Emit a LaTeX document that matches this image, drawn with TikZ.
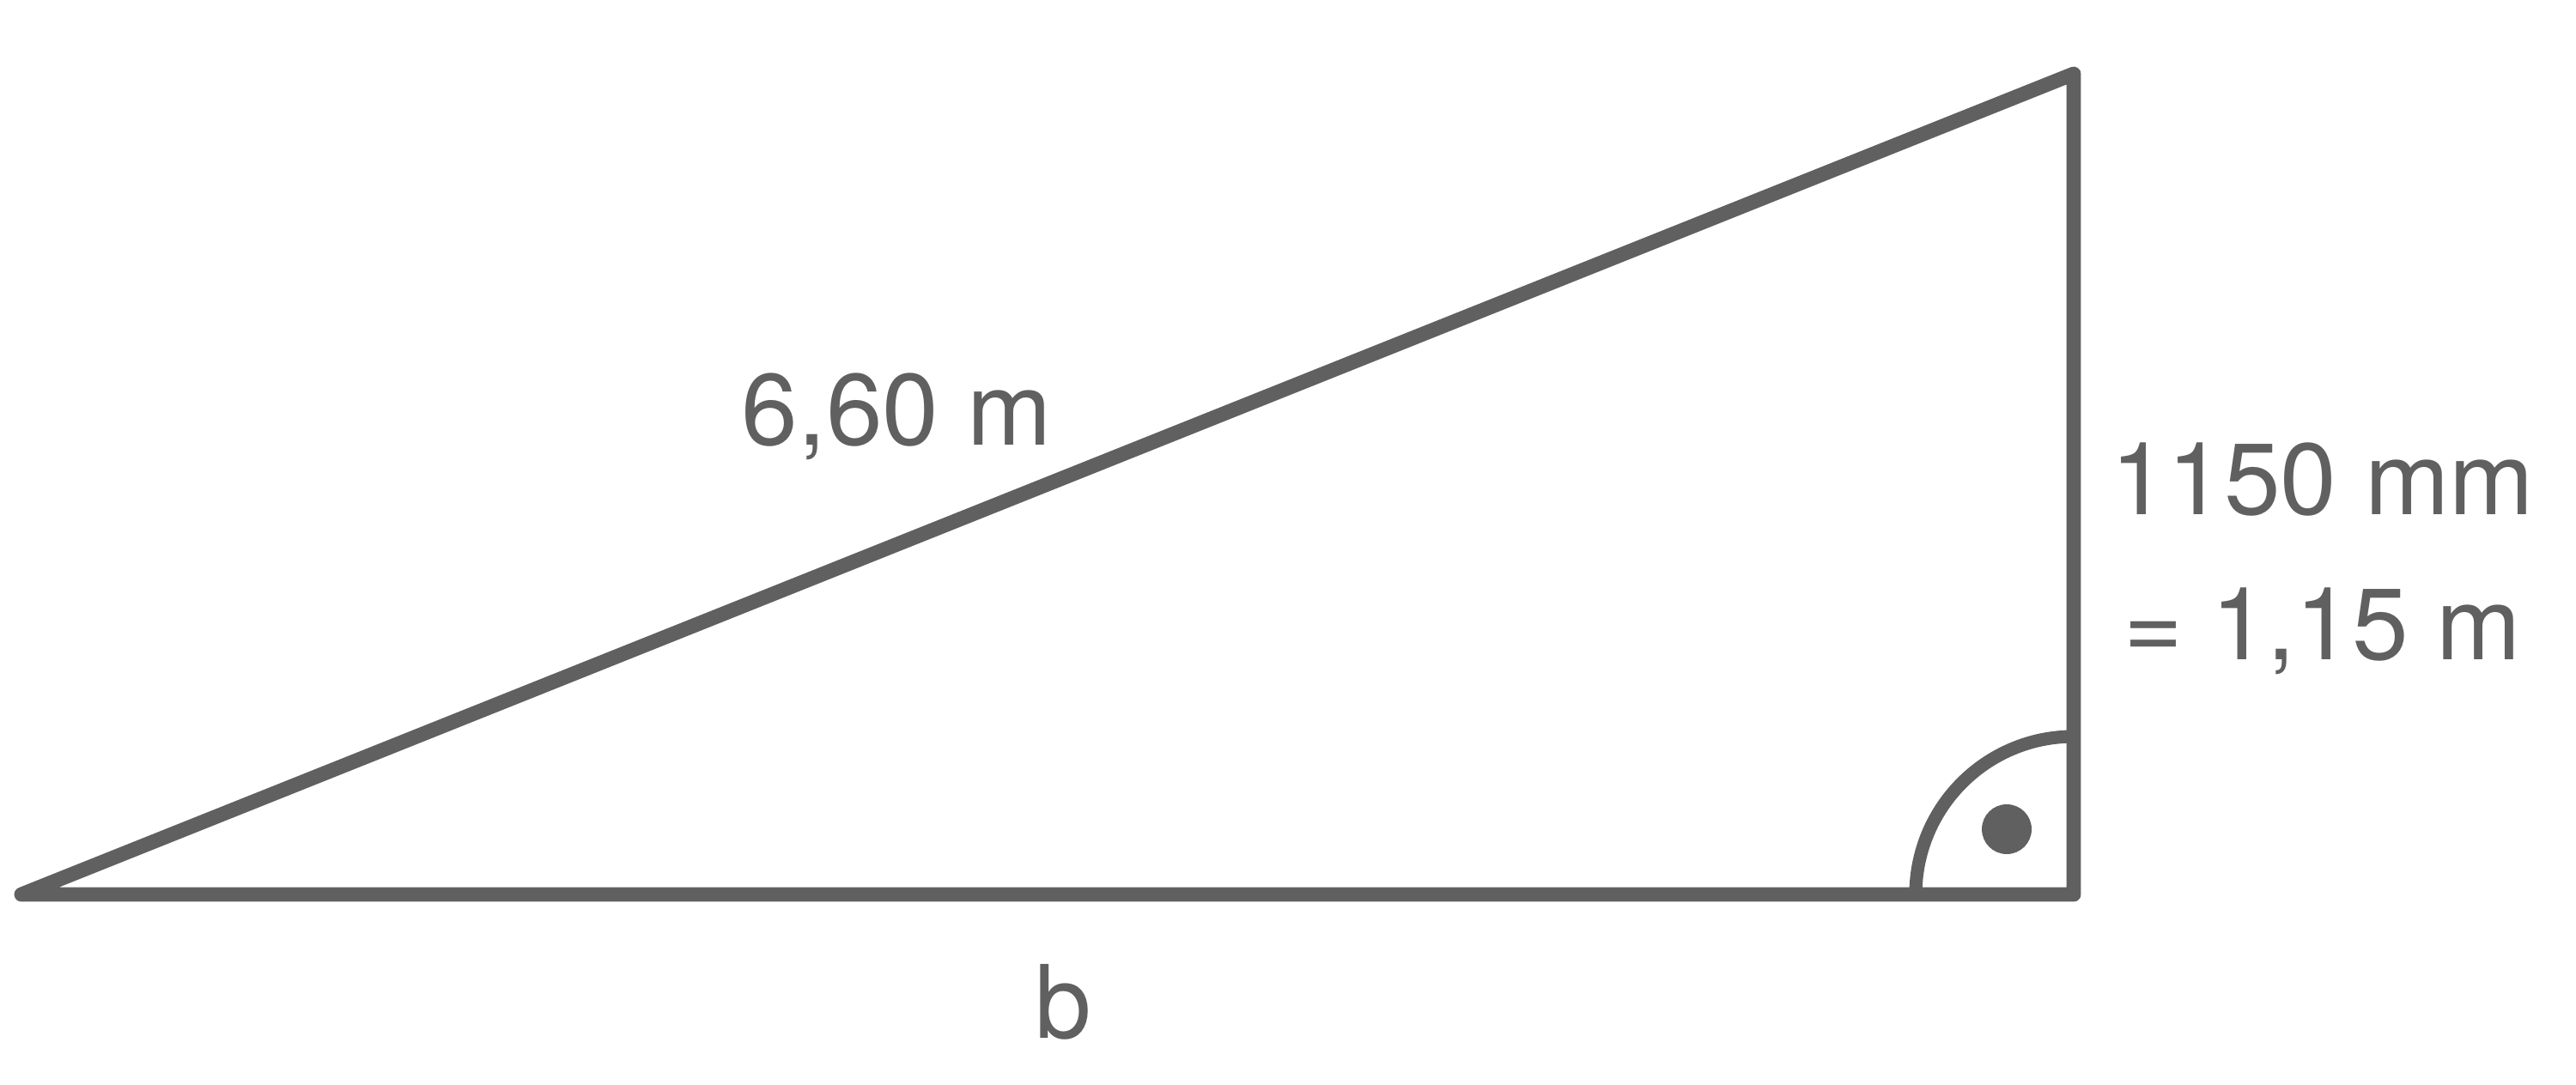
\documentclass[tikz,border=0pt]{standalone}
\usepackage{fontspec}
\setmainfont{TeX Gyre Heros}
\definecolor{lineGray}{HTML}{606060}

\begin{document}
\begin{tikzpicture}[
        sideLine/.style = {draw=lineGray,line width=4.8pt,line join=round,line cap=round},
        angleArc/.style = {draw=lineGray,line width=4.3pt},
        lengthLabel/.style = {text=lineGray,inner sep=0pt,anchor=base,
            font=\fontsize{33.6}{48}\selectfont}
        ]
        \useasboundingbox (0,0) rectangle (30,12.63);
        % corners of the triangle
        \coordinate (left) at (0.25,2.21);
        \coordinate (right) at (24.15,2.21);
        \coordinate (top) at (24.15,11.77);
        \draw[sideLine] (left) -- (right) -- (top) -- cycle;
        % right angle mark
        \draw[angleArc] ([xshift=-1.84cm]right) arc[start angle=180,end angle=90,radius=1.84cm];
        \fill[lineGray] (23.37,2.97) circle[radius=0.29];
        % labels
        \node[lengthLabel] (hyp) at (10.44,7.45) {6,60 m};
        \node[lengthLabel,align=center] (height) at (27.05,4.95) {1150 mm\\= 1,15 m};
        \node[lengthLabel] (base) at (12.38,0.54) {b};
    \end{tikzpicture}
\end{document}
